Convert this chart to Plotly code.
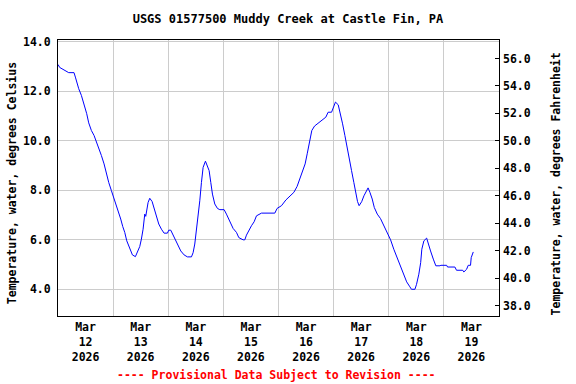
import pandas as pd
import plotly.graph_objects as go

# Hours since 2026-03-12 00:00 and water temperature (deg C)
hours = [0, 0.74, 4.66, 6.98, 7.56, 8.15, 9.02, 10.18, 11.34, 12.5, 13.37, 14.54, 15.7, 16.72,
         17.73, 18.89, 20.05, 21.07, 22.08, 23.25, 24.41, 25.57, 26.44, 27.31, 28.18, 29.06,
         29.93, 30.8, 31.67, 32.4, 33.7, 34.57, 35.59, 36.31, 37.04, 37.77, 38.2, 39.22, 39.95,
         40.97, 41.84, 42.85, 43.87, 45.03, 46.19, 47.64, 48.22, 49.09, 49.67, 50.83, 52.0,
         53.45, 54.9, 56.35, 58.1, 58.82, 59.55, 60.27, 61.0, 61.73, 62.45, 63.18, 64.19,
         65.07, 65.79, 66.52, 67.24, 68.26, 69.42, 70.44, 72.32, 73.34, 74.36, 75.23, 76.24,
         77.7, 78.72, 80.6, 81.33, 82.05, 83.07, 84.23, 85.39, 86.41, 88.59, 94.4, 95.4, 97.3,
         99.2, 100.9, 102.7, 104.1, 105.3, 106.4, 107.6, 108.5, 109.3, 109.9, 110.5, 111.7,
         113.3, 115.2, 116.6, 117.6, 119.1, 119.8, 120.8, 122.0, 123.0, 123.9, 124.9, 125.9,
         126.8, 127.8, 128.8, 129.7, 130.4, 131.1, 132.2, 133.2, 134.3, 135.0, 135.8, 136.8,
         137.7, 139.0, 140.4, 141.9, 143.3, 144.8, 146.2, 147.7, 149.2, 150.3, 151.8, 153.2,
         153.9, 155.4, 156.1, 157.1, 157.9, 158.4, 159.3, 160.5, 161.3, 162.2, 163.4, 164.5,
         166.3, 166.7, 169.2, 169.6, 172.8, 173.5, 176.2, 176.7, 177.9, 178.6, 179.6, 179.9,
         180.8]
temps_c = [13.09, 12.97, 12.76, 12.76, 12.58, 12.36, 12.11, 11.84, 11.5, 11.1, 10.73, 10.42,
           10.22, 9.98, 9.68, 9.41, 9.07, 8.67, 8.32, 7.99, 7.68, 7.38, 7.11, 6.84, 6.54, 6.30,
           5.96, 5.76, 5.55, 5.39, 5.32, 5.48, 5.73, 6.03, 6.43, 7.04, 6.95, 7.51, 7.68, 7.55,
           7.27, 6.9, 6.64, 6.43, 6.27, 6.27, 6.39, 6.39, 6.27, 6.09, 5.83, 5.55, 5.39, 5.31,
           5.31, 5.48, 5.83, 6.37, 7.04, 7.58, 8.32, 8.93, 9.18, 9.0, 8.8, 8.32, 7.85, 7.45,
           7.27, 7.22, 7.22, 7.04, 6.84, 6.64, 6.46, 6.3, 6.09, 6.0, 6.0, 6.19, 6.39, 6.57,
           6.73, 6.97, 7.08, 7.08, 7.27, 7.38, 7.61, 7.76, 7.92, 8.16, 8.46, 8.73, 9.07, 9.48,
           9.81, 10.15, 10.42, 10.6, 10.73, 10.87, 10.96, 11.16, 11.16, 11.33, 11.57, 11.46,
           11.1, 10.69, 10.22, 9.68, 9.27, 8.8, 8.32, 7.81, 7.55, 7.38, 7.54, 7.78, 7.95, 8.1,
           7.92, 7.65, 7.31, 7.04, 6.86, 6.57, 6.3, 6.0, 5.62, 5.28, 4.95, 4.67, 4.3, 4.1,
           4.0, 4.0, 4.2, 4.61, 5.08, 5.62, 5.96, 6.07, 5.79, 5.55, 5.22, 4.95, 4.95, 4.97,
           4.97, 4.9, 4.9, 4.77, 4.77, 4.7, 4.81, 4.97, 4.97, 5.28, 5.51]

start = pd.Timestamp("2026-03-12 00:00")
x_range = ["2026-03-12 00:00", "2026-03-20 00:00"]
c_range = [2.92, 14.08]
f_range = [v * 1.8 + 32 for v in c_range]

title_text = "USGS 01577500 Muddy Creek at Castle Fin, PA"
left_title = "Temperature, water, degrees Celsius"
right_title = "Temperature, water, degrees Fahrenheit"
footer = "---- Provisional Data Subject to Revision ----"

times = start + pd.to_timedelta(hours, unit="h")
temps_f = [v * 1.8 + 32 for v in temps_c]

FONT = "DejaVu Sans Mono"

fig = go.Figure()
fig.add_trace(go.Scatter(x=times, y=temps_c, mode="lines",
                         line=dict(color="#0000FF", width=1), showlegend=False,
                         hoverinfo="skip"))
fig.add_trace(go.Scatter(x=times, y=temps_f, mode="lines", yaxis="y2",
                         line=dict(color="rgba(0,0,0,0)", width=0), showlegend=False,
                         hoverinfo="skip"))

fig.update_layout(
    width=576, height=384,
    margin=dict(l=58, r=77, t=40, b=68, autoexpand=False),
    paper_bgcolor="white", plot_bgcolor="white",
    font=dict(family=FONT, size=11.5, color="black", weight="bold"),
    title=dict(text=title_text, x=0.5, xref="container", xanchor="center",
               y=1 - 19 / 384, yanchor="middle",
               font=dict(family=FONT, size=12, color="black", weight="bold")),
    xaxis=dict(type="date", range=x_range, tick0="2026-03-12", dtick=86400000,
               tickformat="%b<br>%d<br>%Y", ticklabelmode="period",
               showgrid=True, gridcolor="#CCCCCC", gridwidth=1,
               showline=True, linecolor="black", linewidth=1, mirror=True,
               ticks="", zeroline=False, automargin=False),
    yaxis=dict(range=c_range, tick0=0, dtick=2, tickformat=".1f",
               showgrid=True, gridcolor="#CCCCCC", gridwidth=1,
               showline=True, linecolor="black", linewidth=1, mirror=True,
               ticks="", zeroline=False, ticklabelstandoff=4, automargin=False),
    yaxis2=dict(range=f_range, tick0=0, dtick=2, tickformat=".1f", overlaying="y",
                side="right", showgrid=False, zeroline=False, showline=False,
                ticks="inside", ticklen=4, tickcolor="black", ticklabelstandoff=3,
                automargin=False),
    annotations=[
        dict(text=left_title, xref="paper", yref="paper", x=-0.105, y=0.48,
             textangle=-90, showarrow=False, xanchor="center", yanchor="middle",
             font=dict(family=FONT, size=11.5, color="black", weight="bold")),
        dict(text=right_title, xref="paper", yref="paper", x=1.129, y=0.48,
             textangle=-90, showarrow=False, xanchor="center", yanchor="middle",
             font=dict(family=FONT, size=11.5, color="black", weight="bold")),
        dict(text=footer, xref="paper", yref="paper", x=0.495, y=-0.214,
             showarrow=False, xanchor="center", yanchor="middle",
             font=dict(family=FONT, size=11.5, color="#FF0000", weight="bold")),
    ],
)

fig.write_html("out.html", config={"displayModeBar": False},
               post_script="document.body.style.margin='0px';document.body.style.padding='0px';")
